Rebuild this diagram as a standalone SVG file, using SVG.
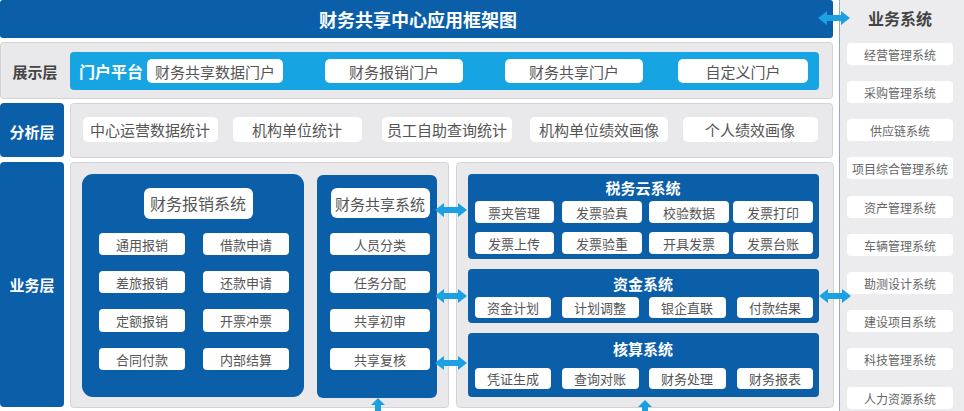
<svg xmlns="http://www.w3.org/2000/svg" width="964" height="411" viewBox="0 0 964 411">
<style>
text{font-family:"Noto Sans CJK SC","Noto Sans",sans-serif;text-anchor:middle;dominant-baseline:central}
.dk{fill:#0b5ea8}
.pn{fill:#e9e9eb;stroke:#d3d3d7;stroke-width:1}
.wb{fill:#ffffff}
.wt{fill:#ffffff;font-weight:bold}
.t15{fill:#555555;font-size:15px}
.t13{fill:#555555;font-size:13px}
.t12{fill:#666666;font-size:12px}
.ar{fill:#1ba1e2}
</style>
<defs>
<path id="dbl" d="M-16,0 L-7,-7 L-7,-3 L7,-3 L7,-7 L16,0 L7,7 L7,3 L-7,3 L-7,7 Z"/>
<path id="up" d="M0,0 L7,7 L3,7 L3,14 L-3,14 L-3,7 L-7,7 Z"/>
</defs>

<g id="title">
<rect x="0" y="0" width="833" height="38" rx="3" class="dk"/>
<text x="418" y="19" class="wt" font-size="18">财务共享中心应用框架图</text>
</g>

<g id="sidebar">
<rect x="839" y="0" width="125" height="411" fill="#ececef"/>
<line x1="839.5" y1="0" x2="839.5" y2="411" stroke="#9aaabb" stroke-width="1"/>
<text x="900" y="18" font-size="16" font-weight="bold" fill="#444444">业务系统</text>
<rect x="847" y="43" width="106" height="22" rx="4" class="wb"/><text x="900" y="54" class="t12">经营管理系统</text>
<rect x="847" y="81" width="106" height="22" rx="4" class="wb"/><text x="900" y="92" class="t12">采购管理系统</text>
<rect x="847" y="119" width="106" height="22" rx="4" class="wb"/><text x="900" y="130" class="t12">供应链系统</text>
<rect x="847" y="157" width="106" height="22" rx="4" class="wb"/><text x="900" y="168" class="t12">项目综合管理系统</text>
<rect x="847" y="196" width="106" height="22" rx="4" class="wb"/><text x="900" y="207" class="t12">资产管理系统</text>
<rect x="847" y="234" width="106" height="22" rx="4" class="wb"/><text x="900" y="245" class="t12">车辆管理系统</text>
<rect x="847" y="272" width="106" height="22" rx="4" class="wb"/><text x="900" y="283" class="t12">勘测设计系统</text>
<rect x="847" y="310" width="106" height="22" rx="4" class="wb"/><text x="900" y="321" class="t12">建设项目系统</text>
<rect x="847" y="348" width="106" height="22" rx="4" class="wb"/><text x="900" y="359" class="t12">科技管理系统</text>
<rect x="847" y="387" width="106" height="22" rx="4" class="wb"/><text x="900" y="398" class="t12">人力资源系统</text>
</g>

<g id="layer-display">
<rect x="0.5" y="42.5" width="832" height="56" rx="3" class="pn"/>
<text x="35" y="71" font-size="15" font-weight="bold" fill="#444444">展示层</text>
<rect x="70" y="52" width="749" height="38" rx="4" fill="#17a4e2"/>
<text x="111" y="71" class="wt" font-size="16">门户平台</text>
<rect x="147" y="59" width="136" height="24" rx="5" class="wb"/><text x="215" y="71" class="t15">财务共享数据门户</text>
<rect x="325" y="59" width="138" height="24" rx="5" class="wb"/><text x="394" y="71" class="t15">财务报销门户</text>
<rect x="505" y="59" width="138" height="24" rx="5" class="wb"/><text x="574" y="71" class="t15">财务共享门户</text>
<rect x="678" y="59" width="130" height="24" rx="5" class="wb"/><text x="743" y="71" class="t15">自定义门户</text>
</g>

<g id="layer-analysis">
<rect x="0" y="103" width="64" height="54" rx="4" class="dk"/>
<text x="32" y="131" class="wt" font-size="15">分析层</text>
<rect x="70.5" y="103.5" width="762" height="54" rx="3" class="pn"/>
<rect x="83" y="117" width="135" height="25" rx="5" class="wb"/><text x="150" y="129" class="t15">中心运营数据统计</text>
<rect x="233" y="117" width="129" height="25" rx="5" class="wb"/><text x="297" y="129" class="t15">机构单位统计</text>
<rect x="382" y="117" width="130" height="25" rx="5" class="wb"/><text x="447" y="129" class="t15">员工自助查询统计</text>
<rect x="530" y="117" width="138" height="25" rx="5" class="wb"/><text x="599" y="129" class="t15">机构单位绩效画像</text>
<rect x="683" y="117" width="135" height="25" rx="5" class="wb"/><text x="750" y="129" class="t15">个人绩效画像</text>
</g>

<g id="layer-business">
<rect x="0" y="162" width="64" height="245" rx="4" class="dk"/>
<text x="32" y="284" class="wt" font-size="15">业务层</text>
<rect x="70.5" y="162.5" width="378" height="245" rx="3" class="pn"/>
<rect x="456.5" y="162.5" width="377" height="245" rx="4" class="pn"/>
</g>

<g id="expense-system">
<rect x="82" y="174" width="222" height="223" rx="11" class="dk"/>
<rect x="144" y="188" width="109" height="31" rx="6" class="wb"/><text x="198" y="203" fill="#555555" font-size="16">财务报销系统</text>
<rect x="99" y="233" width="86" height="22" rx="4" class="wb"/><text x="142" y="244" class="t13">通用报销</text>
<rect x="203" y="233" width="86" height="22" rx="4" class="wb"/><text x="246" y="244" class="t13">借款申请</text>
<rect x="99" y="271" width="86" height="22" rx="4" class="wb"/><text x="142" y="282" class="t13">差旅报销</text>
<rect x="203" y="271" width="86" height="22" rx="4" class="wb"/><text x="246" y="282" class="t13">还款申请</text>
<rect x="99" y="309" width="86" height="23" rx="4" class="wb"/><text x="142" y="320" class="t13">定额报销</text>
<rect x="203" y="309" width="86" height="23" rx="4" class="wb"/><text x="246" y="320" class="t13">开票冲票</text>
<rect x="99" y="348" width="86" height="22" rx="4" class="wb"/><text x="142" y="359" class="t13">合同付款</text>
<rect x="203" y="348" width="86" height="22" rx="4" class="wb"/><text x="246" y="359" class="t13">内部结算</text>
</g>

<g id="share-system">
<rect x="317" y="175" width="120" height="223" rx="6" class="dk"/>
<rect x="331" y="188" width="99" height="30" rx="6" class="wb"/><text x="380" y="203" fill="#555555" font-size="15">财务共享系统</text>
<rect x="330" y="233" width="100" height="22" rx="4" class="wb"/><text x="380" y="244" class="t13">人员分类</text>
<rect x="330" y="271" width="100" height="22" rx="4" class="wb"/><text x="380" y="282" class="t13">任务分配</text>
<rect x="330" y="309" width="100" height="23" rx="4" class="wb"/><text x="380" y="320" class="t13">共享初审</text>
<rect x="330" y="348" width="100" height="22" rx="4" class="wb"/><text x="380" y="359" class="t13">共享复核</text>
</g>

<g id="tax-system">
<rect x="468" y="174" width="351" height="85" rx="4" class="dk"/>
<text x="643" y="187" class="wt" font-size="15">税务云系统</text>
<rect x="475" y="201" width="79" height="22" rx="4" class="wb"/><text x="514" y="212" class="t13">票夹管理</text>
<rect x="562" y="201" width="80" height="22" rx="4" class="wb"/><text x="602" y="212" class="t13">发票验真</text>
<rect x="649" y="201" width="80" height="22" rx="4" class="wb"/><text x="689" y="212" class="t13">校验数据</text>
<rect x="733" y="201" width="80" height="22" rx="4" class="wb"/><text x="773" y="212" class="t13">发票打印</text>
<rect x="475" y="232" width="79" height="22" rx="4" class="wb"/><text x="514" y="243" class="t13">发票上传</text>
<rect x="562" y="232" width="80" height="22" rx="4" class="wb"/><text x="602" y="243" class="t13">发票验重</text>
<rect x="649" y="232" width="80" height="22" rx="4" class="wb"/><text x="689" y="243" class="t13">开具发票</text>
<rect x="733" y="232" width="80" height="22" rx="4" class="wb"/><text x="773" y="243" class="t13">发票台账</text>
</g>

<g id="fund-system">
<rect x="468" y="269" width="351" height="54" rx="4" class="dk"/>
<text x="643" y="283" class="wt" font-size="15">资金系统</text>
<rect x="475" y="297" width="76" height="21" rx="4" class="wb"/><text x="513" y="307" class="t13">资金计划</text>
<rect x="562" y="297" width="77" height="21" rx="4" class="wb"/><text x="600" y="307" class="t13">计划调整</text>
<rect x="649" y="297" width="77" height="21" rx="4" class="wb"/><text x="687" y="307" class="t13">银企直联</text>
<rect x="737" y="297" width="76" height="21" rx="4" class="wb"/><text x="775" y="307" class="t13">付款结果</text>
</g>

<g id="accounting-system">
<rect x="468" y="333" width="351" height="64" rx="4" class="dk"/>
<text x="643" y="348" class="wt" font-size="15">核算系统</text>
<rect x="475" y="368" width="76" height="21" rx="4" class="wb"/><text x="513" y="378" class="t13">凭证生成</text>
<rect x="562" y="368" width="77" height="21" rx="4" class="wb"/><text x="600" y="378" class="t13">查询对账</text>
<rect x="649" y="368" width="77" height="21" rx="4" class="wb"/><text x="687" y="378" class="t13">财务处理</text>
<rect x="737" y="368" width="76" height="21" rx="4" class="wb"/><text x="775" y="378" class="t13">财务报表</text>
</g>

<g id="connectors" class="ar">
<use href="#dbl" transform="translate(834,18)"/>
<use href="#dbl" transform="translate(451,210)"/>
<use href="#dbl" transform="translate(451,296)"/>
<use href="#dbl" transform="translate(451,363)"/>
<use href="#dbl" transform="translate(835,296)"/>
<use href="#up" transform="translate(378,398)"/>
<use href="#up" transform="translate(645,400)"/>
</g>
</svg>
